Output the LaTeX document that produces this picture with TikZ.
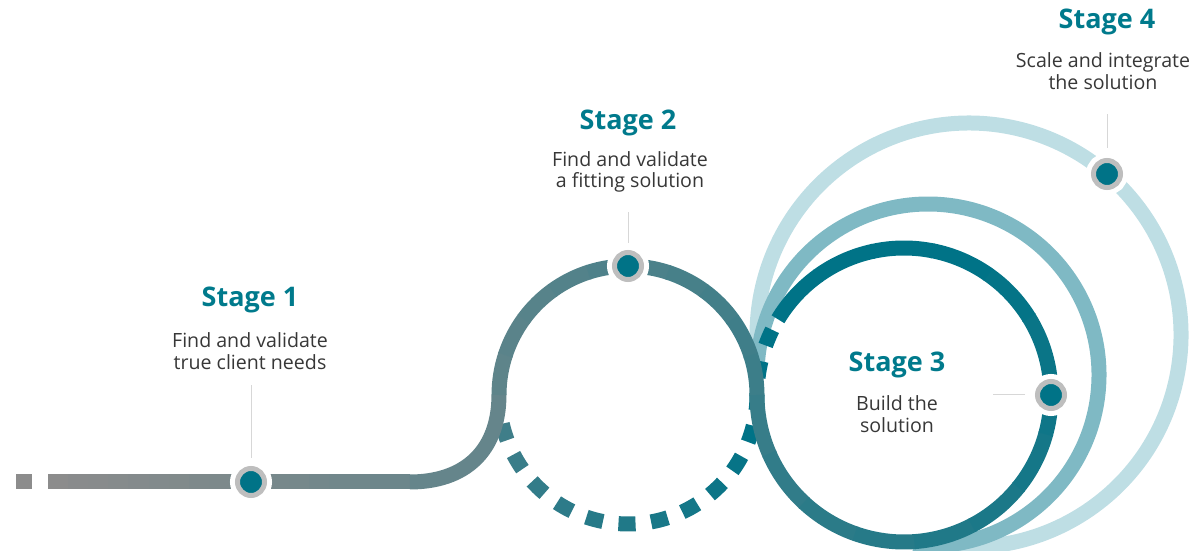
\documentclass[tikz,border=0pt]{standalone}
\usepackage{fontspec}
\setmainfont{Open Sans}
\definecolor{petrol}{RGB}{0,115,135}
\definecolor{pathgray}{RGB}{140,140,140}
\definecolor{ringlight}{RGB}{190,222,228}
\definecolor{ringmid}{RGB}{127,185,196}
\definecolor{dotgray}{RGB}{190,190,190}
\definecolor{leadgray}{RGB}{215,215,215}
\definecolor{bodygray}{RGB}{55,55,55}
\definecolor{titleteal}{RGB}{0,122,140}

\begin{document}
\begin{tikzpicture}[x=0.5pt,y=0.5pt,
    track/.style={line width=7.5pt},
    stagedot/.style={circle,fill=petrol,draw=dotgray,line width=2.5pt,minimum size=13.5pt,inner sep=0pt,
        preaction={draw=white,line width=7.5pt}},
    leader/.style={draw=leadgray,line width=0.5pt},
    stagetitle/.style={text=titleteal,font=\bfseries\fontsize{13.5}{16}\selectfont},
    stagetext/.style={text=bodygray,align=center,font=\fontsize{9.8}{10.8}\selectfont}]
    \useasboundingbox (0,0) rectangle (1189,551);
    % OUTER RINGS
    \draw [track,ringlight] ([shift={(969,216)}]-100:212) arc [start angle=-100,end angle=182,radius=212];
    \draw [track,ringmid] ([shift={(928,176)}]-95:171) arc [start angle=-95,end angle=181,radius=171];
    % DASHED LOOP
    \foreach \i in {0,...,11}{
        \pgfmathsetmacro\as{196.7+14.57*\i-3.8}
        \pgfmathsetmacro\ae{\as+7.6}
        \pgfmathtruncatemacro\p{min(100,55+4.5*\i)}
        \draw [track,petrol!\p!pathgray] ([shift={(628,156)}]\as:129) arc [start angle=\as,end angle=\ae,radius=129];
    }
    \foreach \a in {170,157}{
        \pgfmathsetmacro\as{\a+3.3}
        \pgfmathsetmacro\ae{\a-3.3}
        \draw [track,petrol] ([shift={(904,156)}]\as:147) arc [start angle=\as,end angle=\ae,radius=147];
    }
    % MAIN TRACK
    \draw [track,pathgray] (16,69) -- (32,69);
    \foreach \i in {0,...,17}{
        \pgfmathsetmacro\xa{48+20.1*\i}
        \pgfmathtruncatemacro\p{(20.1*\i+10)/15}
        \draw [track,petrol!\p!pathgray] (\xa,69) -- ++(20.6,0);
    }
    \draw [track,petrol!28!pathgray] (409.8,69) .. controls (465,69) and (499,100) .. (499,156.5);
    \foreach \i in {0,...,9}{
        \pgfmathsetmacro\as{180-18*\i}
        \pgfmathsetmacro\ae{\as-18.5}
        \pgfmathtruncatemacro\p{(482+40.5*(\i+.5))/15}
        \draw [track,petrol!\p!pathgray] ([shift={(628,156)}]\as:129) arc [start angle=\as,end angle=\ae,radius=129];
    }
    \foreach \i in {0,...,13}{
        \pgfmathsetmacro\as{180+23.5*\i}
        \pgfmathsetmacro\ae{min(509,\as+24)}
        \pgfmathtruncatemacro\p{min(100,(887+60.3*(\i+.5))/15)}
        \draw [track,petrol!\p!pathgray] ([shift={(904,156)}]\as:147) arc [start angle=\as,end angle=\ae,radius=147];
    }
    % STAGE DOTS
    \node [stagedot] (dot1) at (251,69) {};
    \node [stagedot] (dot2) at (628,285) {};
    \node [stagedot] (dot3) at (1051,156) {};
    \node [stagedot] (dot4) at (1107,377) {};
    % LABELS
    \node [stagetitle] (title1) at (250,251) {Stage 1};
    \node [stagetext] (text1) at (250,200) {Find and validate\\true client needs};
    \node [stagetitle] (title2) at (628,428) {Stage 2};
    \node [stagetext] (text2) at (630,379) {Find and validate\\a fitting solution};
    \node [stagetitle] (title3) at (897,186) {Stage 3};
    \node [stagetext] (text3) at (897,137) {Build the\\solution};
    \node [stagetitle] (title4) at (1107,529) {Stage 4};
    \node [stagetext] (text4) at (1103,480) {Scale and integrate\\the solution};
    % LEADERS
    \coordinate (end1) at (251,166);
    \coordinate (end2) at (628,339);
    \coordinate (end3) at (993,156);
    \coordinate (end4) at (1107,437);
    \draw [leader,shorten <=4pt] (dot1) -- (end1);
    \draw [leader,shorten <=3.5pt] (dot2) -- (end2);
    \draw [leader,shorten <=5pt] (dot3) -- (end3);
    \draw [leader,shorten <=5pt] (dot4) -- (end4);
\end{tikzpicture}
\end{document}
